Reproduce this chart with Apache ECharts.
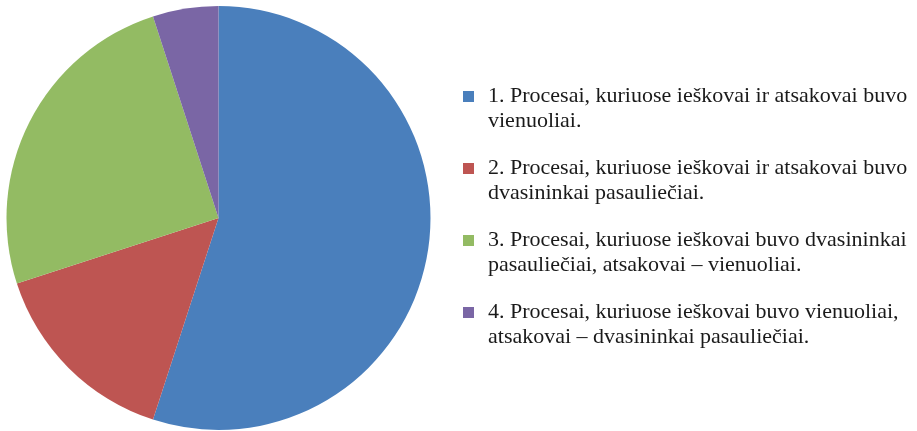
<!DOCTYPE html>
<html>
<head>
<meta charset="utf-8">
<script src="https://cdn.jsdelivr.net/npm/echarts@6/dist/echarts.min.js"></script>
<style>
html,body{margin:0;padding:0;background:#fff;}
#chart{width:917px;height:431px;}
</style>
</head>
<body>
<div id="chart"></div>
<script>
const categories = [
  "1. Procesai, kuriuose ieškovai ir atsakovai buvo\nvienuoliai.",
  "2. Procesai, kuriuose ieškovai ir atsakovai buvo\ndvasininkai pasauliečiai.",
  "3. Procesai, kuriuose ieškovai buvo dvasininkai\npasauliečiai, atsakovai – vienuoliai.",
  "4. Procesai, kuriuose ieškovai buvo vienuoliai,\natsakovai – dvasininkai pasauliečiai."
];
const values = [55, 15, 25, 5];
const colors = ["#4A7FBC", "#BE5552", "#93BB63", "#7A66A5"];

const chart = echarts.init(document.getElementById('chart'), null, {renderer: 'canvas'});
chart.setOption({
  animation: false,
  backgroundColor: '#ffffff',
  color: colors,
  legend: {
    orient: 'vertical',
    left: 463,
    top: 59,
    padding: 0,
    itemGap: -3,
    itemWidth: 11,
    itemHeight: 11,
    icon: 'rect',
    selectedMode: false,
    data: categories,
    formatter: function (name) { return '\n' + name; },
    textStyle: {
      fontFamily: 'Liberation Serif',
      fontSize: 22,
      color: '#1a1a1a',
      lineHeight: 25,
      padding: [0, 0, 0, 9]
    }
  },
  series: [{
    type: 'pie',
    center: [218.5, 218],
    radius: 212,
    startAngle: 90,
    clockwise: true,
    label: {show: false},
    labelLine: {show: false},
    emphasis: {disabled: true},
    itemStyle: {borderWidth: 0},
    data: categories.map((c, i) => ({name: c, value: values[i]}))
  }]
});
</script>
</body>
</html>
